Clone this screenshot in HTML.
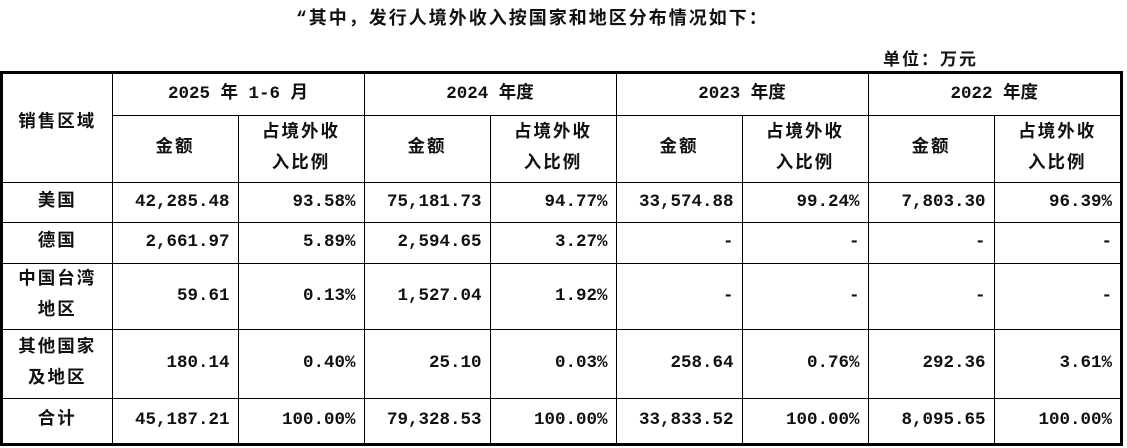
<!DOCTYPE html>
<html><head><meta charset="utf-8"><style>
body{margin:0;width:1127px;height:448px;background:#fff;position:relative;overflow:hidden;font-family:"Liberation Mono","Noto Sans CJK SC",monospace;font-weight:bold;color:#111}
.t{position:absolute;font-size:18px;white-space:nowrap;letter-spacing:2px}
.w{position:absolute;left:0;top:71px;width:1117px;border:3px solid #000}
table{border-collapse:collapse;table-layout:fixed;width:1117px;font-size:17.5px}
td{border:1px solid #000;padding:0 8px;text-align:center;line-height:31px;overflow:hidden;white-space:nowrap;letter-spacing:2px}
td.r{letter-spacing:0}
tr:first-child td{border-top:none}
td:first-child{border-left:none}
td:last-child{border-right:none}
tr:last-child td{border-bottom:none}
.r{text-align:right}
</style></head><body>
<div class="t" style="left:296px;top:4px;">“其中，发行人境外收入按国家和地区分布情况如下：</div>
<div class="t" style="left:883px;top:45px;font-size:17px;">单位：万元</div>
<div class="w"><table>
<colgroup><col style="width:109px"><col style="width:126px"><col style="width:126px"><col style="width:126px"><col style="width:126px"><col style="width:126px"><col style="width:126px"><col style="width:126px"><col style="width:126px"></colgroup>
<tr style="height:41px"><td rowspan="2" style="vertical-align:top;padding-top:34px">销售区域</td><td colspan="2" style="letter-spacing:0">2025 年 1-6 月</td><td colspan="2" style="letter-spacing:0">2024 年度</td><td colspan="2" style="letter-spacing:0">2023 年度</td><td colspan="2" style="letter-spacing:0">2022 年度</td></tr>
<tr style="height:67px"><td>金额</td><td>占境外收<br>入比例</td><td>金额</td><td>占境外收<br>入比例</td><td>金额</td><td>占境外收<br>入比例</td><td>金额</td><td>占境外收<br>入比例</td></tr>
<tr style="height:40px"><td>美国</td><td class="r">42,285.48</td><td class="r">93.58%</td><td class="r">75,181.73</td><td class="r">94.77%</td><td class="r">33,574.88</td><td class="r">99.24%</td><td class="r">7,803.30</td><td class="r">96.39%</td></tr>
<tr style="height:41px"><td>德国</td><td class="r">2,661.97</td><td class="r">5.89%</td><td class="r">2,594.65</td><td class="r">3.27%</td><td class="r">-</td><td class="r">-</td><td class="r">-</td><td class="r">-</td></tr>
<tr style="height:66px"><td>中国台湾<br>地区</td><td class="r">59.61</td><td class="r">0.13%</td><td class="r">1,527.04</td><td class="r">1.92%</td><td class="r">-</td><td class="r">-</td><td class="r">-</td><td class="r">-</td></tr>
<tr style="height:69px"><td>其他国家<br>及地区</td><td class="r">180.14</td><td class="r">0.40%</td><td class="r">25.10</td><td class="r">0.03%</td><td class="r">258.64</td><td class="r">0.76%</td><td class="r">292.36</td><td class="r">3.61%</td></tr>
<tr style="height:45px"><td>合计</td><td class="r">45,187.21</td><td class="r">100.00%</td><td class="r">79,328.53</td><td class="r">100.00%</td><td class="r">33,833.52</td><td class="r">100.00%</td><td class="r">8,095.65</td><td class="r">100.00%</td></tr>
</table></div>
</body></html>
